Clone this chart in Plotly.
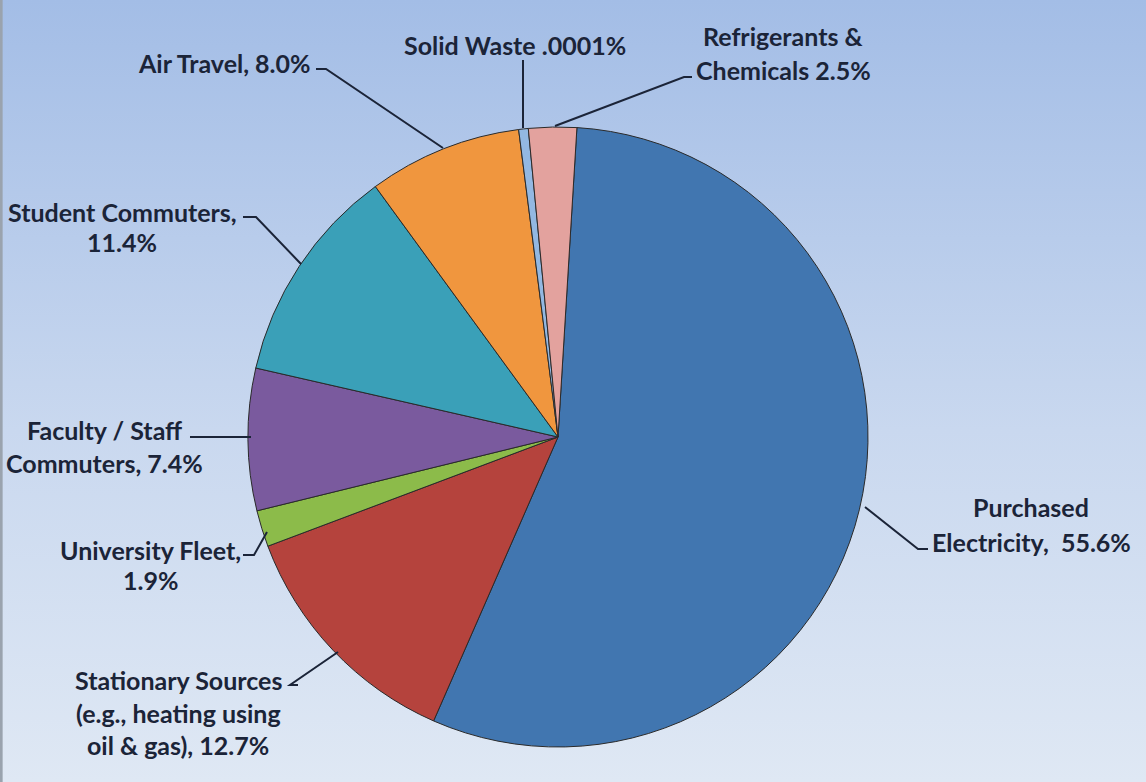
import base64
import plotly.graph_objects as go

# ---- data ----
categories = ["Purchased Electricity", "Stationary Sources", "University Fleet",
              "Faculty / Staff Commuters", "Student Commuters", "Air Travel",
              "Solid Waste", "Refrigerants & Chemicals"]
values = [55.6, 12.7, 1.9, 7.4, 11.4, 8.0, 0.5, 2.5]
label_lines = [
    ["Purchased", "Electricity,  55.6%"],
    ["Stationary Sources", "(e.g., heating using", "oil & gas), 12.7%"],
    ["University Fleet,", "1.9%"],
    ["Faculty / Staff", "Commuters, 7.4%"],
    ["Student Commuters,", "11.4%"],
    ["Air Travel, 8.0%"],
    ["Solid Waste .0001%"],
    ["Refrigerants &", "Chemicals 2.5%"],
]
colors = ["#4176B0", "#B5433D", "#8CBB4A", "#7A5A9E", "#3AA0B8", "#F0963E", "#93B8E2", "#E3A29E"]

W, H = 1146, 782


def px(x, y):
    return x / W, 1 - y / H


# ---- layout positions (pixels) ----
# (center x, first line y, line spacing, anchor)
text_pos = [
    (1031, 507, 35, "center"),
    (178, 680, 32.5, "center"),
    (150, 550, 30, "center"),
    (104, 430, 33, "center"),
    (122, 212, 30, "center"),
    (224, 63, 0, "center"),
    (515, 45, 0, "center"),
    (783, 36, 34, "center"),
]
leaders = [
    [(928, 549), (918, 549), (865, 507)],
    [(298, 685), (290, 685), (338, 652)],
    [(243, 555), (254, 555), (267, 532)],
    [(190, 437), (251, 437)],
    [(243, 217), (256, 217), (301, 264)],
    [(316, 69), (326, 69), (443, 148)],
    [(523, 60), (523, 128)],
    [(692, 77), (684, 77), (555, 126)],
]

cx, cy, r = 558, 437, 310
dom_x = [(cx - r) / W, (cx + r) / W]
dom_y = [1 - (cy + r) / H, 1 - (cy - r) / H]

fig = go.Figure(go.Pie(
    labels=categories,
    values=values,
    sort=False,
    direction="clockwise",
    rotation=3.5,
    textinfo="none",
    hoverinfo="label+percent",
    marker=dict(colors=colors, line=dict(color="#2a2a2a", width=1)),
    domain=dict(x=dom_x, y=dom_y),
    showlegend=False,
))

svg = (
    f'<svg xmlns="http://www.w3.org/2000/svg" width="{W}" height="{H}">'
    '<defs><linearGradient id="g" x1="0" y1="0" x2="0" y2="1">'
    '<stop offset="0" stop-color="#A3BDE6"/>'
    '<stop offset="0.55" stop-color="#C9D8EF"/>'
    '<stop offset="1" stop-color="#DFE8F4"/>'
    '</linearGradient></defs>'
    f'<rect width="{W}" height="{H}" fill="url(#g)"/></svg>'
)
src = "data:image/svg+xml;base64," + base64.b64encode(svg.encode()).decode()

annotations = []
for lines, (tx, ty, dy, anc) in zip(label_lines, text_pos):
    for i, line in enumerate(lines):
        x, y = px(tx, ty + i * dy)
        annotations.append(dict(
            x=x, y=y, xref="paper", yref="paper", text=line, showarrow=False,
            xanchor=anc, yanchor="middle",
            font=dict(family="Lato", size=25, color="#1B2438", weight="bold"),
        ))

shapes = []
for pts in leaders:
    path = ""
    for j, (x, y) in enumerate(pts):
        X, Y = px(x, y)
        path += ("M" if j == 0 else " L") + f"{X:.5f},{Y:.5f}"
    shapes.append(dict(type="path", path=path, xref="paper", yref="paper",
                       line=dict(color="#1B2438", width=2)))
# thin gray frame on the left edge
shapes.append(dict(type="line", xref="paper", yref="paper", x0=0.001, x1=0.001, y0=0, y1=1,
                   line=dict(color="#9AA3AE", width=3)))

fig.update_layout(
    width=W, height=H,
    margin=dict(l=0, r=0, t=0, b=0),
    paper_bgcolor="#DFE8F4",
    plot_bgcolor="rgba(0,0,0,0)",
    images=[dict(source=src, xref="paper", yref="paper", x=0, y=1,
                 sizex=1, sizey=1, xanchor="left", yanchor="top",
                 sizing="stretch", layer="below")],
    annotations=annotations,
    shapes=shapes,
)

fig.write_html("out.html", config={"displayModeBar": False},
               post_script="document.body.style.margin='0';")
